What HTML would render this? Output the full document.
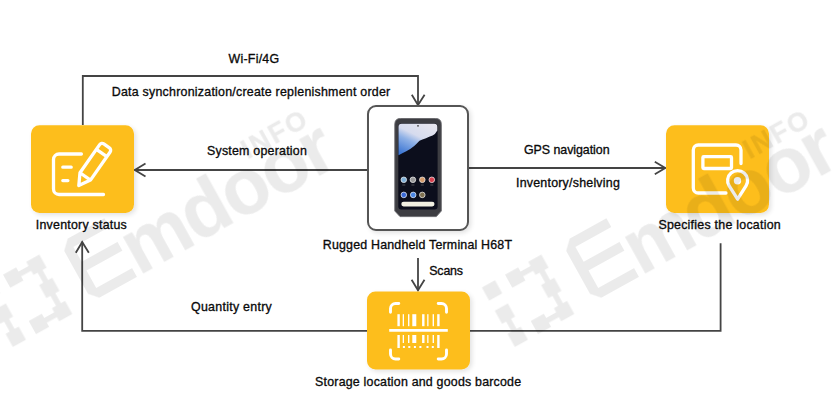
<!DOCTYPE html>
<html><head><meta charset="utf-8">
<style>
html,body{margin:0;padding:0;background:#fff;width:834px;height:412px;overflow:hidden}
svg{display:block}
text{font-family:"Liberation Sans",sans-serif;font-size:12.4px;font-weight:400;fill:#0a0a0a;stroke:#0a0a0a;stroke-width:0.32px}
</style></head><body>
<svg width="834" height="412" viewBox="0 0 834 412">
<defs>
<filter id="sh" x="-20%" y="-20%" width="140%" height="140%">
<feGaussianBlur in="SourceAlpha" stdDeviation="2.5"/>
<feOffset dx="2" dy="2" result="b"/>
<feComponentTransfer><feFuncA type="linear" slope="0.12"/></feComponentTransfer>
<feMerge><feMergeNode/><feMergeNode in="SourceGraphic"/></feMerge>
</filter>
</defs>

<!-- connector lines -->
<g fill="none" stroke="#444" stroke-width="1.8" stroke-linejoin="miter">
<polyline points="82.8,125 82.8,76 418,76 418,105"/>
<polyline points="411.8,94.8 418,105 424.6,94.8"/>
<line x1="367" y1="170" x2="134.5" y2="170"/>
<polyline points="145.5,163.6 134.8,170 145.5,176.4"/>
<line x1="469" y1="168" x2="665.5" y2="168"/>
<polyline points="654.8,161.8 665.3,168 654.8,174.2"/>
<polyline points="367,330.8 82.2,330.8 82.2,241.8"/>
<polyline points="75.8,252.8 82.2,242 88.8,252.8"/>
<polyline points="470,330.8 720.6,330.8 720.6,243.3"/>
<line x1="418" y1="258" x2="418" y2="290.5"/>
<polyline points="411.6,279.7 418,290.3 424.5,279.7"/>
</g>

<!-- yellow boxes -->
<g fill="#FDBE1E" filter="url(#sh)">
<rect x="31" y="125.2" width="103" height="87.8" rx="8.5"/>
<rect x="666" y="125.2" width="103" height="87.8" rx="8.5"/>
<rect x="367" y="291.6" width="103" height="77.8" rx="8.5"/>
</g>

<!-- phone box -->
<rect x="368" y="106" width="100" height="124" rx="8" fill="#fff" stroke="#555" stroke-width="2" filter="url(#sh)"/>


<!-- inventory icon -->
<g fill="none" stroke="#fff" stroke-width="3.3" stroke-linecap="round" stroke-linejoin="round">
<path d="M81.4 154 H59 A5.5 5.5 0 0 0 53.5 159.5 V189 A5.5 5.5 0 0 0 59 194.5 H103.5"/>
<path d="M62.8 167.2 H71.2 M62.8 180.6 H67.9"/>
<g transform="translate(78.8,185.6) rotate(35)">
<path d="M0 0 L-6.4 -11.2 L-6.4 -45.5 A3 3 0 0 1 -3.4 -48.5 L3.4 -48.5 A3 3 0 0 1 6.4 -45.5 L6.4 -11.2 Z M-6.4 -11.2 H6.4 M-6.4 -39.8 H6.4"/>
</g>
</g>
<!-- location icon -->
<g fill="none" stroke="#fff" stroke-width="3.3" stroke-linecap="round" stroke-linejoin="round">
<path d="M741 163.5 V150 A5 5 0 0 0 736 145 H698.3 A5 5 0 0 0 693.3 150 V188 A5 5 0 0 0 698.3 193 H726"/>
<rect x="702.9" y="156.7" width="28.6" height="11.8" rx="0.8"/>
<path d="M737.6 199.2 L729.17 185.97 A10 10 0 1 1 746.03 185.97 Z"/>
</g>
<circle cx="737.5" cy="180.8" r="3.7" fill="#fff"/>
<!-- barcode icon -->
<g fill="none" stroke="#fff" stroke-width="2.9" stroke-linecap="round" stroke-linejoin="round">
<path d="M390.5 312.3 V308.5 A5 5 0 0 1 395.5 303.5 H398.8"/>
<path d="M446.5 312.3 V308.5 A5 5 0 0 0 441.5 303.5 H438.2"/>
<path d="M390.5 350 V354 A5 5 0 0 0 395.5 359 H398.8"/>
<path d="M446.5 350 V354 A5 5 0 0 1 441.5 359 H438.2"/>
<path d="M389.2 330.4 H447.8" stroke-linecap="butt"/>
</g>
<g fill="#fff">
<rect x="397.4" y="314.2" width="2.4" height="12"/>
<rect x="402.7" y="314.2" width="1.3" height="12"/>
<rect x="408" y="314.2" width="1.4" height="12"/>
<rect x="412.3" y="314.2" width="4" height="12"/>
<rect x="422.1" y="314.2" width="2.4" height="12"/>
<rect x="427.2" y="314.2" width="1.3" height="12"/>
<rect x="432.6" y="314.2" width="1.4" height="12"/>
<rect x="437.2" y="314.2" width="2.4" height="12"/>
<rect x="397.4" y="335" width="2.4" height="13"/>
<rect x="402.7" y="335" width="1.3" height="8"/>
<rect x="408" y="335" width="1.4" height="8"/>
<rect x="412.3" y="335" width="4" height="8"/>
<rect x="422.1" y="335" width="2.4" height="8"/>
<rect x="427.2" y="335" width="1.3" height="8"/>
<rect x="432.6" y="335" width="1.4" height="8"/>
<rect x="437.2" y="335" width="2.4" height="13"/>
<rect x="402.9" y="346" width="2" height="2"/>
<rect x="408.3" y="346" width="2" height="2"/>
<rect x="413.9" y="346" width="2" height="2"/>
<rect x="419.4" y="346" width="2" height="2"/>
<rect x="426.5" y="346" width="2" height="2"/>
<rect x="431.8" y="346" width="2" height="2"/>
</g>
<!-- phone -->
<defs>
<linearGradient id="wp" x1="0.8" y1="0" x2="0.2" y2="1">
<stop offset="0" stop-color="#e6e5ee"/>
<stop offset="0.42" stop-color="#d6dbee"/>
<stop offset="0.62" stop-color="#8fb1e6"/>
<stop offset="1" stop-color="#3f78d4"/>
</linearGradient>
</defs>
<path d="M400.5 118.5 H435.5 Q441.3 118.5 441.3 124.3 V211 L436.3 216.6 H400 L394.8 211 V124.3 Q394.8 118.5 400.5 118.5 Z" fill="#3d3d42" stroke="#66666b" stroke-width="0.9"/>
<rect x="398.3" y="123.6" width="39.3" height="86" rx="3" fill="#0c0e1c"/>
<path d="M401.5 123.8 H434.3 Q437.3 123.8 437.3 126.8 V130.5 Q435.5 134 432.6 135.6 Q429 137 426 138.2 Q422 139.5 419.5 140.8 Q416.5 144 414.2 146 Q410 149.5 406.3 151.3 Q402 153.5 398.5 155.2 V126.8 Q398.5 123.8 401.5 123.8 Z" fill="url(#wp)"/>
<circle cx="418" cy="125.8" r="0.9" fill="#444"/>
<g stroke="#f4f4f4" stroke-width="0.7">
<circle cx="403.8" cy="179.8" r="2.8" fill="#7fb0d8"/>
<circle cx="412.9" cy="179.8" r="2.8" fill="#9a9a9a"/>
<circle cx="422.3" cy="179.8" r="2.8" fill="#d49a6a"/>
<circle cx="431.8" cy="179.8" r="2.8" fill="#d8404e"/>
<circle cx="403.8" cy="194.9" r="2.8" fill="#3a6ad8"/>
<circle cx="413.2" cy="194.9" r="2.8" fill="#4a86e4"/>
<circle cx="422.3" cy="194.9" r="2.8" fill="#7e7050"/>
</g>
<g fill="#5a5a60"><rect x="402.3" y="184.6" width="3" height="0.8"/><rect x="411.4" y="184.6" width="3" height="0.8"/><rect x="420.8" y="184.6" width="3" height="0.8"/><rect x="430.3" y="184.6" width="3" height="0.8"/></g>
<rect x="401.3" y="201.8" width="33.2" height="4.6" rx="2.3" fill="#f2f0e2"/>
<!-- labels -->
<text x="228.5" y="62.8" textLength="50.6">Wi-Fi/4G</text>
<text x="111.8" y="95.7" textLength="278.4">Data synchronization/create replenishment order</text>
<text x="207" y="155.1" textLength="99.8">System operation</text>
<text x="524" y="153.5" textLength="85.6">GPS navigation</text>
<text x="516" y="186.9" textLength="103.8">Inventory/shelving</text>
<text x="35.8" y="228.5" textLength="91">Inventory status</text>
<text x="658.4" y="228.8" textLength="122.3">Specifies the location</text>
<text x="322.8" y="248.7" textLength="189.2">Rugged Handheld Terminal H68T</text>
<text x="429.3" y="274.8" textLength="33.7">Scans</text>
<text x="191" y="310.8" textLength="80.8">Quantity entry</text>
<text x="315.1" y="385.8" textLength="206">Storage location and goods barcode</text>

<!-- watermark -->
<defs>
<g id="wm">
<path d="M8 0 H51 V-10 H10 V-30 H51 V-40 H10 V-57 H51 V-67 H9 L0 -58 V-9 Z" fill="#000"/>
<text x="53" y="0" style="font-family:'Liberation Sans',sans-serif;font-size:77px;font-weight:700;letter-spacing:-2px;fill:#000">mdoor</text>
<text x="204.7" y="-49.3" style="font-family:'Liberation Sans',sans-serif;font-size:27px;font-weight:700;letter-spacing:2px;fill:#000">INFO</text>
<g transform="translate(-57.5,-32.8)" fill="#000">
<rect x="-34" y="-34" width="15" height="15"/>
<rect x="-7.5" y="-34" width="15" height="15"/>
<rect x="19" y="-34" width="15" height="15"/>
<rect x="19" y="-7.5" width="15" height="15"/>
<rect x="19" y="19" width="15" height="15"/>
<rect x="-7.5" y="19" width="15" height="15"/>
<rect x="-34" y="19" width="15" height="15"/>
<rect x="-34" y="-7.5" width="15" height="15"/>
<rect x="0" y="-29.25" width="22" height="5.5"/>
<rect x="23.75" y="-22" width="5.5" height="44"/>
<rect x="0" y="23.75" width="22" height="5.5"/>
<rect x="-29.25" y="0" width="5.5" height="22"/>
</g>
</g>
</defs>
<g opacity="0.08">
<use href="#wm" transform="translate(92.3,301.6) rotate(-29)"/>
<use href="#wm" transform="translate(594.3,301.6) rotate(-29)"/>
</g>
</svg>
</body></html>
